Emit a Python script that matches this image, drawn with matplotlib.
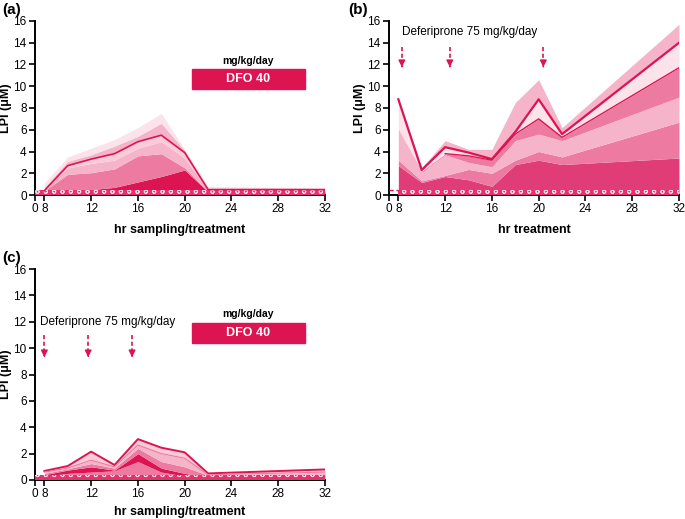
import matplotlib
matplotlib.use("Agg")
import matplotlib.pyplot as plt
import numpy as np

plt.rcParams['font.family'] = ['Liberation Sans', 'DejaVu Sans']
plt.rcParams['hatch.linewidth'] = 0.7

# ---------------- data ----------------
t_a = [8, 10, 12, 14, 16, 18, 20, 22, 32]
a_p10 = [0.3, 0.4, 0.5, 0.7, 1.2, 1.7, 2.3, 0.3, 0.3]
a_p25 = [0.4, 1.9, 2.05, 2.4, 3.6, 3.8, 2.5, 0.35, 0.35]
a_p40 = [0.45, 2.5, 2.9, 3.2, 4.3, 4.9, 3.4, 0.45, 0.45]
a_med = [0.4, 2.7, 3.3, 3.8, 4.9, 5.5, 3.9, 0.5, 0.5]
a_p75 = [0.7, 3.1, 3.7, 4.5, 5.4, 6.6, 4.1, 0.6, 0.55]
a_max = [1.1, 3.5, 4.3, 5.1, 6.2, 7.5, 4.2, 0.8, 0.6]

t_b = [8, 10, 12, 14, 16, 18, 20, 22, 32]
b_p10 = [2.7, 1.15, 1.7, 1.4, 0.8, 2.8, 3.2, 2.8, 3.4]
b_p25 = [3.2, 1.3, 1.8, 2.35, 2.0, 3.2, 4.0, 3.5, 6.7]
b_p40 = [6.1, 2.1, 3.7, 3.0, 2.6, 5.0, 5.6, 5.0, 9.0]
b_p60 = [6.1, 2.2, 3.8, 3.6, 3.2, 5.6, 7.0, 5.3, 11.7]
b_med = [8.8, 2.3, 4.4, 3.9, 3.3, 5.8, 8.8, 5.6, 14.0]
b_max = [8.9, 2.5, 5.0, 4.2, 4.2, 8.5, 10.6, 6.2, 15.7]

t_c = [8, 10, 12, 14, 16, 18, 20, 22, 32]
c_p10 = [0.3, 0.5, 0.6, 0.7, 1.4, 0.6, 0.3, 0.2, 0.3]
c_p25 = [0.4, 0.75, 1.0, 0.75, 2.0, 0.9, 0.5, 0.25, 0.35]
c_p40 = [0.5, 0.85, 1.25, 0.9, 2.4, 1.4, 1.0, 0.35, 0.4]
c_p60 = [0.6, 0.9, 1.5, 1.0, 2.65, 2.0, 1.65, 0.4, 0.6]
c_med = [0.68, 1.06, 2.15, 1.14, 3.1, 2.45, 2.1, 0.5, 0.8]
c_max = [0.85, 1.1, 2.2, 1.2, 3.2, 2.5, 2.15, 0.55, 0.85]

x_ticks = [8, 12, 16, 20, 24, 28, 32]
y_ticks = [0, 2, 4, 6, 8, 10, 12, 14, 16]
baseline_a, baseline_b, baseline_c = 0.5, 0.5, 0.4

arrows_b = [8.3, 12.4, 20.4]
arrows_c = [8.0, 11.75, 15.5]

# ---------------- colours ----------------
RED = '#dc1452'
C_DARK = '#e03c76'
C_MED = '#ec7aa1'
C_LIGHT = '#f5b4c9'
C_LIGHTER = '#f8cbd9'
C_PALE = '#fce2ea'
C_BASE = '#e2336f'

X0 = 7.2  # position of the "0" tick (broken axis)

fig = plt.figure(figsize=(6.85, 5.19), dpi=100)
ax_a = fig.add_axes([35/685, 1-195/519, 290/685, 174/519])
ax_b = fig.add_axes([389/685, 1-195/519, 290/685, 174/519])
ax_c = fig.add_axes([35/685, 1-480/519, 290/685, 211/519])


def style(ax, xlabel, xpad):
    ax.set_xlim(X0, 32)
    ax.set_ylim(0, 16)
    ax.set_xticks([X0] + x_ticks)
    ax.set_xticklabels(['0'] + [str(v) for v in x_ticks])
    ax.set_yticks(y_ticks)
    for s in ['top', 'right']:
        ax.spines[s].set_visible(False)
    for s in ['left', 'bottom']:
        ax.spines[s].set_linewidth(1.4)
    ax.tick_params(direction='out', length=4, width=1.2, labelsize=8.5, pad=2)
    ax.set_ylabel('LPI (\u03bcM)', fontsize=9, fontweight='bold', labelpad=1)
    ax.set_xlabel(xlabel, fontsize=9, fontweight='bold', labelpad=xpad)


def bands(ax, t, layers, colors):
    lower = np.zeros(len(t))
    for arr, col in zip(layers, colors):
        ax.fill_between(t, lower, arr, color=col, lw=0, zorder=2)
        lower = np.array(arr)


def base(ax, x_start, h):
    ax.fill_between([x_start, 32], [0, 0], [h, h], facecolor=C_BASE,
                    edgecolor='#fbd0de', hatch='oo', lw=0, zorder=3)


# ----- (a)
bands(ax_a, t_a, [a_p10, a_p25, a_p40, a_med, a_p75, a_max],
      [RED, C_MED, C_LIGHT, C_LIGHTER, C_LIGHT, C_PALE])
ax_a.plot(t_a, a_med, color=RED, lw=1.2, zorder=4)
base(ax_a, X0, baseline_a)
style(ax_a, 'hr sampling/treatment', 6)
ax_a.add_patch(plt.Rectangle((20.65, 9.75), 9.65, 1.85, color=RED, zorder=5))
ax_a.text(25.45, 10.65, 'DFO 40', color='white', fontsize=9, fontweight='bold',
          ha='center', va='center', zorder=6)
ax_a.text(25.45, 12.35, 'mg/kg/day', fontsize=7.5, fontweight='bold', ha='center', va='center')

# ----- (b)
bands(ax_b, t_b, [b_p10, b_p25, b_p40, b_p60, b_med, b_max],
      [C_DARK, C_MED, C_LIGHT, C_MED, C_PALE, C_LIGHT])
ax_b.plot(t_b, b_med, color=RED, lw=1.6, zorder=4)
ax_b.plot(t_b[2:], b_p60[2:], color=RED, lw=1.0, zorder=4)
base(ax_b, 8, baseline_b)
ax_b.plot([X0, 8], [baseline_b, baseline_b], color=RED, lw=1, ls=(0, (3, 2)), zorder=4)
style(ax_b, 'hr treatment', 6)
ax_b.text(8.3, 15.0, 'Deferiprone 75 mg/kg/day', fontsize=8.5, ha='left', va='center')
for xa in arrows_b:
    ax_b.plot([xa, xa], [13.6, 11.9], color=RED, lw=1.2, ls=(0, (2.5, 1.5)), zorder=5)
    ax_b.annotate('', xy=(xa, 11.5), xytext=(xa, 12.1),
                  arrowprops=dict(arrowstyle='-|>,head_length=0.4,head_width=0.2',
                                  color=RED, lw=1.0), zorder=5)

# ----- (c)
bands(ax_c, t_c, [c_p10, c_p25, c_p40, c_p60, c_med, c_max],
      [C_MED, RED, C_MED, C_LIGHT, C_LIGHTER, C_PALE])
ax_c.plot(t_c, c_med, color=RED, lw=1.4, zorder=4)
ax_c.plot(t_c, c_p60, color='#f07aa0', lw=0.8, zorder=4)
base(ax_c, X0, baseline_c)
style(ax_c, 'hr sampling/treatment', 4)
ax_c.add_patch(plt.Rectangle((20.65, 10.4), 9.65, 1.5, color=RED, zorder=5))
ax_c.text(25.45, 11.15, 'DFO 40', color='white', fontsize=9, fontweight='bold',
          ha='center', va='center', zorder=6)
ax_c.text(25.45, 12.55, 'mg/kg/day', fontsize=7.5, fontweight='bold', ha='center', va='center')
ax_c.text(7.6, 12.0, 'Deferiprone 75 mg/kg/day', fontsize=8.5, ha='left', va='center')
for xa in arrows_c:
    ax_c.plot([xa, xa], [11.0, 9.5], color=RED, lw=1.2, ls=(0, (2.5, 1.5)), zorder=5)
    ax_c.annotate('', xy=(xa, 9.1), xytext=(xa, 9.7),
                  arrowprops=dict(arrowstyle='-|>,head_length=0.4,head_width=0.2',
                                  color=RED, lw=1.0), zorder=5)

fig.text(2/685, 1-10/519, '(a)', fontsize=11, fontweight='bold', va='center')
fig.text(348/685, 1-10/519, '(b)', fontsize=11, fontweight='bold', va='center')
fig.text(2/685, 1-258/519, '(c)', fontsize=11, fontweight='bold', va='center')

fig.savefig('out.png', dpi=100)
